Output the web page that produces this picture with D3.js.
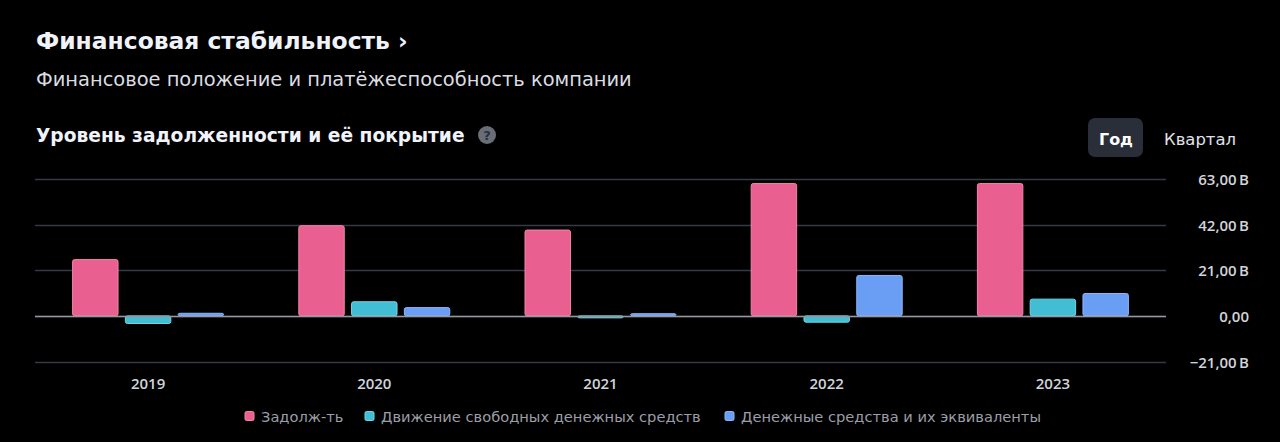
<!DOCTYPE html>
<html>
<head>
<meta charset="utf-8">
<script src="https://cdn.jsdelivr.net/npm/d3@7"></script>
<style>
  body { margin: 0; background: #000; }
  svg { display: block; font-family: "DejaVu Sans", sans-serif; }
</style>
</head>
<body>
<svg id="chart" width="1280" height="442"></svg>
<script>
// values in billions
let years = ['2019', '2020', '2021', '2022', '2023']
let debt = [25.9, 41.5, 39.5, 60.9, 60.9]
let freeCashFlow = [-3.5, 6.5, -0.9, -2.9, 7.7]
let cashEquiv = [1.2, 3.8, 1.0, 18.6, 10.3]
let yTicks = [-21, 0, 21, 42, 63]
let seriesNames = ['Задолж-ть', 'Движение свободных денежных средств', 'Денежные средства и их эквиваленты']
let seriesColors = ['#e85f90', '#41bdd4', '#6a9ef5']
let seriesStrokes = ['#f584ab', '#6fd8ea', '#8db6fa']

let svg = d3.select('#chart')

// shrink/grow font so a text fills a given width
let fit = (sel, w) => {
    let len = sel.node().getComputedTextLength()
    sel.attr('font-size', +sel.attr('font-size') * w / len)
}

svg.append('rect').attr('width', 1280).attr('height', 442).attr('fill', '#000')

// headers
let title = svg.append('text')
    .attr('x', 36).attr('y', 49)
    .attr('fill', '#f0f3fa')
    .attr('font-size', 22).attr('font-weight', 700)
    .text('Финансовая стабильность ›')
fit(title, 372)

let sub = svg.append('text')
    .attr('x', 36).attr('y', 86)
    .attr('fill', '#dbdde3')
    .attr('font-size', 17)
    .text('Финансовое положение и платёжеспособность компании')
fit(sub, 596)

let heading = svg.append('text')
    .attr('x', 36).attr('y', 142)
    .attr('fill', '#f0f3fa')
    .attr('font-size', 17).attr('font-weight', 700)
    .text('Уровень задолженности и её покрытие')
fit(heading, 429)

svg.append('circle')
    .attr('cx', 487).attr('cy', 135).attr('r', 9)
    .attr('fill', '#6a6d78')
svg.append('text')
    .attr('x', 487).attr('y', 140)
    .attr('text-anchor', 'middle')
    .attr('fill', '#2a2e39')
    .attr('font-size', 13).attr('font-weight', 700)
    .text('?')

// period switch
svg.append('rect')
    .attr('x', 1088).attr('y', 118).attr('width', 55).attr('height', 39).attr('rx', 7)
    .attr('fill', '#2a2e39')
let god = svg.append('text')
    .attr('x', 1099).attr('y', 145)
    .attr('fill', '#ffffff')
    .attr('font-size', 16).attr('font-weight', 700)
    .text('Год')
fit(god, 34)
let kv = svg.append('text')
    .attr('x', 1164).attr('y', 145)
    .attr('fill', '#e0e3eb')
    .attr('font-size', 16)
    .text('Квартал')
fit(kv, 72)

// scales
let x = d3.scaleBand()
    .domain(years)
    .range([35, 1166])

let x1 = d3.scaleBand()
    .domain(d3.range(3))
    .range([0, 152])
    .paddingInner(0.12)

let y = d3.scaleLinear()
    .domain([-21, 63])
    .range([361.5, 179])

// grid
svg.append('g')
    .selectAll('line')
    .data(yTicks)
    .join('line')
    .attr('x1', 35).attr('x2', 1166)
    .attr('y1', d => Math.round(y(d)) + 0.5)
    .attr('y2', d => Math.round(y(d)) + 0.5)
    .attr('stroke', '#363a45')
    .attr('stroke-width', 1.5)

// y axis labels
let fmt = d => d === 0 ? '0,00' : d3.format('.2f')(d).replace('.', ',').replace('-', '−') + '\u2009B'
svg.append('g')
    .selectAll('text')
    .data(yTicks)
    .join('text')
    .attr('x', 1249)
    .attr('y', d => y(d) + 6)
    .attr('text-anchor', 'end')
    .attr('fill', '#d1d4dc')
    .attr('font-family', '"Open Sans", sans-serif')
    .attr('font-size', 15)
    .attr('font-weight', 600)
    .text(fmt)

// x axis labels
let xAxis = d3.axisBottom(x).tickSize(0).tickPadding(0)
let gx = svg.append('g')
    .attr('transform', 'translate(0,378)')
    .call(xAxis)
gx.select('.domain').remove()
gx.selectAll('text')
    .attr('fill', '#d1d4dc')
    .attr('font-size', 15)
    .attr('font-weight', 600)
    .attr('font-family', '"Open Sans", sans-serif')

// bars
let allSeries = [debt, freeCashFlow, cashEquiv]
let rows = []
years.forEach((yr, i) => {
    allSeries.forEach((s, k) => {
        rows.push({ year: yr, k: k, value: s[i] })
    })
})

let groupOffset = (x.bandwidth() - 152) / 2

svg.append('g')
    .selectAll('rect')
    .data(rows)
    .join('rect')
    .attr('x', d => x(d.year) + groupOffset + x1(d.k) + 0.5)
    .attr('width', x1.bandwidth() - 1)
    .attr('y', d => Math.min(y(d.value), y(0)))
    .attr('height', d => Math.max(Math.abs(y(d.value) - y(0)), 1.5))
    .attr('rx', 2)
    .attr('fill', d => seriesColors[d.k])
    .attr('stroke', d => seriesStrokes[d.k])
    .attr('stroke-width', 1)

// zero line on top of bars
svg.append('line')
    .attr('x1', 35).attr('x2', 1166)
    .attr('y1', Math.round(y(0)) + 0.5).attr('y2', Math.round(y(0)) + 0.5)
    .attr('stroke', '#9598a1').attr('stroke-width', 1.5)

// legend
let legendX = [245, 365, 725]
let legend = svg.append('g')
    .selectAll('g')
    .data(seriesNames)
    .join('g')
    .attr('transform', (d, i) => 'translate(' + legendX[i] + ',411.5)')

legend.append('rect')
    .attr('width', 9).attr('height', 9).attr('rx', 1.5)
    .attr('fill', (d, i) => seriesColors[i])
    .attr('stroke', (d, i) => seriesStrokes[i])

let legendText = legend.append('text')
    .attr('x', 16).attr('y', 10)
    .attr('fill', '#9b9ea8')
    .attr('font-size', 14)
    .text(d => d)
// common size taken from the longest label
let cyanLabel = d3.select(legendText.nodes()[1])
fit(cyanLabel, 320)
legendText.attr('font-size', cyanLabel.attr('font-size'))
</script>
</body>
</html>
